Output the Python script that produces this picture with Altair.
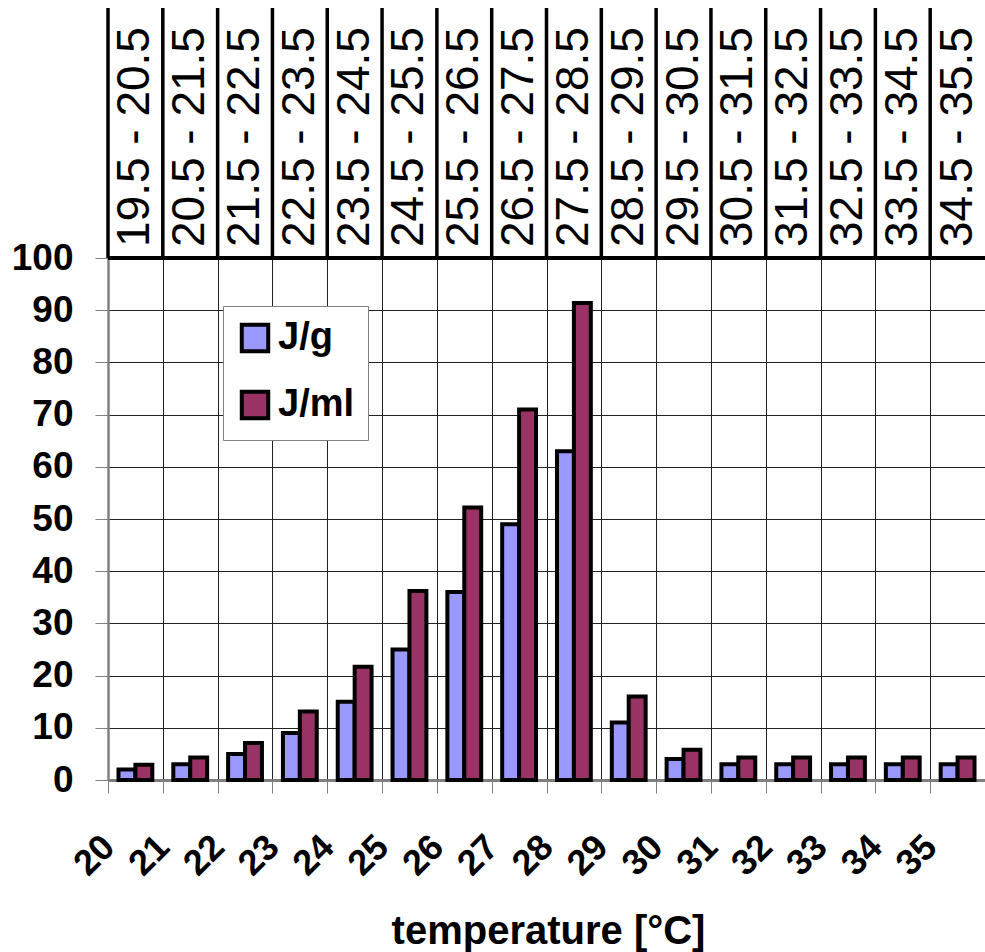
import altair as alt
import pandas as pd

categories = ["20", "21", "22", "23", "24", "25", "26", "27",
              "28", "29", "30", "31", "32", "33", "34", "35"]
ranges = ["19.5 - 20.5", "20.5 - 21.5", "21.5 - 22.5", "22.5 - 23.5",
          "23.5 - 24.5", "24.5 - 25.5", "25.5 - 26.5", "26.5 - 27.5",
          "27.5 - 28.5", "28.5 - 29.5", "29.5 - 30.5", "30.5 - 31.5",
          "31.5 - 32.5", "32.5 - 33.5", "33.5 - 34.5", "34.5 - 35.5"]
series_names = ["J/g", "J/ml"]
j_per_g = [2, 3, 5, 9, 15, 25, 36, 49, 63, 11, 4, 3, 3, 3, 3, 3]
j_per_ml = [2.9, 4.3, 7.1, 13.1, 21.7, 36.2, 52.2, 71, 91.4, 16, 5.8,
            4.3, 4.3, 4.3, 4.3, 4.3]
colors = ["#9999FF", "#993366"]

FONT = "Liberation Sans"
W, H = 877, 522

rows = []
for c, a, b in zip(categories, j_per_g, j_per_ml):
    rows.append({"cat": c, "series": series_names[0], "value": a})
    rows.append({"cat": c, "series": series_names[1], "value": b})
bars_df = pd.DataFrame(rows)
head_df = pd.DataFrame({"cat": categories, "range": ranges})
one_df = pd.DataFrame({"k": [0]})

x_axis = alt.Axis(
    orient="bottom", tickBand="extent", labelAngle=-45, labelAlign="right",
    labelBaseline="middle", labelOffset=-27, labelPadding=48, tickSize=13,
    tickColor="#808080", domainColor="#808080", domainWidth=3,
    grid=True, gridColor="#222222", gridWidth=1,
    labelFont=FONT, labelFontSize=36, labelFontWeight="bold", labelColor="black",
    title="temperature [°C]", titleFont=FONT, titleFontSize=40,
    titleFontWeight="bold", titleColor="black", titleX=440, titleY=163,
    titleBaseline="alphabetic", titleAlign="center",
)
x_scale = alt.Scale(domain=categories, paddingInner=0, paddingOuter=0)

bars = alt.Chart(bars_df).mark_bar(stroke="black", strokeWidth=4,
                                   strokeJoin="miter").encode(
    x=alt.X("cat:N", sort=categories, scale=x_scale, axis=x_axis),
    xOffset=alt.XOffset("series:N", sort=series_names,
                        scale=alt.Scale(paddingInner=0, paddingOuter=0.62)),
    y=alt.Y("value:Q", scale=alt.Scale(domain=[0, 100], nice=False),
            axis=alt.Axis(values=list(range(0, 101, 10)), tickSize=13,
                          tickColor="#808080", domainColor="#808080",
                          domainWidth=2.5, grid=True, gridColor="#222222",
                          gridWidth=1, labelFont=FONT, labelFontSize=37,
                          labelFontWeight="bold", labelColor="black",
                          labelPadding=22, title=None)),
    fill=alt.Fill("series:N", sort=series_names,
                  scale=alt.Scale(domain=series_names, range=colors),
                  legend=alt.Legend(orient="none", legendX=115, legendY=48,
                                    title=None, symbolType="square",
                                    symbolSize=700, symbolStrokeWidth=4,
                                    symbolStrokeColor="black",
                                    labelFont=FONT, labelFontSize=38,
                                    labelFontWeight="bold", labelColor="black",
                                    fillColor="white", strokeColor="#808080",
                                    padding=13, rowPadding=23, labelOffset=4)),
)

header_text = alt.Chart(head_df).mark_text(
    angle=270, align="left", baseline="middle", fontSize=46, font=FONT,
    color="black"
).encode(
    x=alt.X("cat:N", sort=categories, scale=x_scale, axis=x_axis),
    y=alt.value(-11),
    text="range:N",
)

header_lines = alt.Chart(head_df).mark_rule(color="black", strokeWidth=3.5).encode(
    x=alt.X("cat:N", sort=categories, scale=x_scale, axis=x_axis, bandPosition=0),
    y=alt.value(-250),
    y2=alt.value(0),
)

top_line = alt.Chart(one_df).mark_rule(color="black", strokeWidth=4).encode(
    x=alt.value(0), x2=alt.value(W), y=alt.value(0)
)

chart = alt.layer(bars, header_lines, header_text, top_line).properties(
    width=W, height=H,
    autosize=alt.AutoSizeParams(type="none"),
    padding={"left": 108, "top": 258, "right": 0, "bottom": 172},
).configure_view(stroke=None)

chart.save("out.html", embed_options={"renderer": "svg", "actions": False})
